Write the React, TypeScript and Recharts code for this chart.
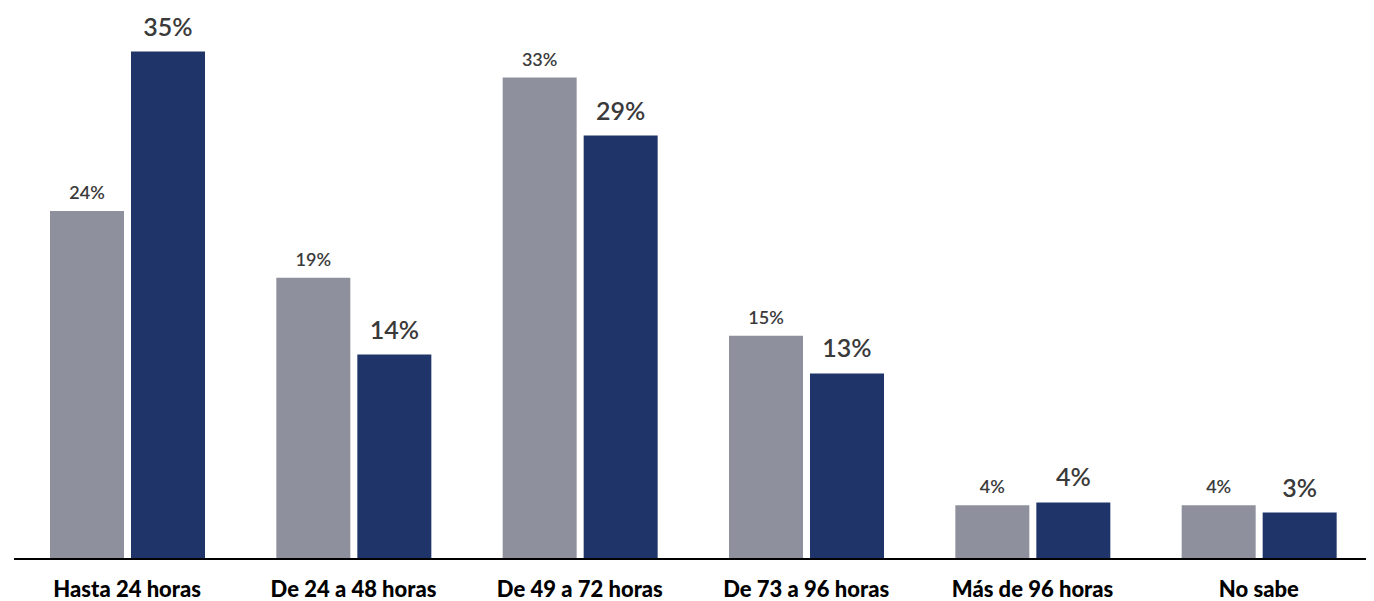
import { BarChart, Bar, XAxis, YAxis, LabelList } from "recharts";

const categories = ["Hasta 24 horas", "De 24 a 48 horas", "De 49 a 72 horas", "De 73 a 96 horas", "Más de 96 horas", "No sabe"];
const grayValues = [24, 19.4, 33.2, 15.4, 3.7, 3.7];
const navyValues = [35, 14.1, 29.2, 12.8, 3.9, 3.2];

const data = categories.map((name, i) => ({ name, gray: grayValues[i], navy: navyValues[i] }));

const pct = (v: any) => `${Math.round(Number(v))}%`;

export default function App() {
  return (
    <div style={{ fontFamily: "Lato, sans-serif" }}>
      <BarChart width={1366} height={593} data={data} margin={{ top: 0, right: 2, left: 6, bottom: 0 }} barGap={7} barSize={74}>
        <XAxis
          dataKey="name"
          height={42}
          tickLine={false}
          axisLine={{ stroke: "#000", strokeWidth: 2 }}
          tick={{ fill: "#000", fontSize: 22, fontWeight: 900, fontFamily: "Lato" }}
          tickMargin={16}
          interval={0}
        />
        <YAxis hide domain={[0, 38]} />
        <Bar dataKey="gray" fill="#8e919d" isAnimationActive={false}>
          <LabelList dataKey="gray" position="top" offset={12} formatter={pct} fill="#3a3a3a" fontSize={18} fontWeight={600} fontFamily="Lato" />
        </Bar>
        <Bar dataKey="navy" fill="#1f356a" isAnimationActive={false}>
          <LabelList dataKey="navy" position="top" offset={16} formatter={pct} fill="#3a3a3a" fontSize={25} fontWeight={600} fontFamily="Lato" />
        </Bar>
      </BarChart>
    </div>
  );
}
